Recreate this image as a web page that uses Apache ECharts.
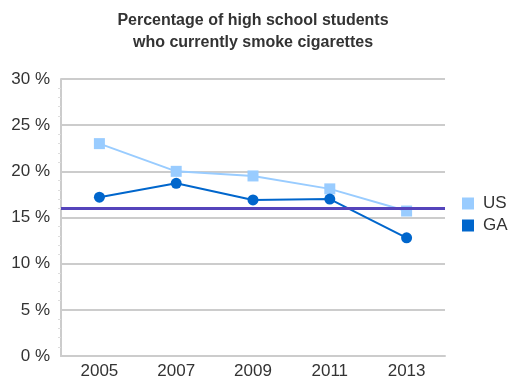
<!DOCTYPE html>
<html><head><meta charset="utf-8">
<script src="https://cdn.jsdelivr.net/npm/echarts@6/dist/echarts.min.js"></script>
<style>html,body{margin:0;padding:0;background:#fff}#c{width:511px;height:383px}</style>
</head><body><div id="c"></div>
<script>
const years = ['2005','2007','2009','2011','2013'];
const usValues = [23.0, 20.0, 19.5, 18.1, 15.7];
const gaValues = [17.2, 18.7, 16.9, 17.0, 12.8];
const targetValue = 16;
const chart = echarts.init(document.getElementById('c'));
const FONT = 'Liberation Sans, Arial';
chart.setOption({
  animation: false,
  title: {
    text: 'Percentage of high school students\nwho currently smoke cigarettes',
    left: 248, top: 5, textAlign: 'center',
    textStyle: {fontFamily: FONT, fontSize: 16, fontWeight: 'bold', color: '#333', lineHeight: 22}
  },
  legend: {
    orient: 'vertical', left: 457, top: 190, itemWidth: 12, itemHeight: 12, itemGap: 5,
    textStyle: {fontFamily: FONT, fontSize: 17, color: '#333', padding: [0,0,0,4]},
    data: [{name: 'US', icon: 'rect'}, {name: 'GA', icon: 'rect'}]
  },
  grid: {left: 61, right: 66, top: 79, bottom: 27, containLabel: false},
  xAxis: {
    type: 'category', data: years, boundaryGap: true,
    axisLine: {lineStyle: {color: '#ccc', width: 2}},
    axisTick: {show: false},
    axisLabel: {fontFamily: FONT, fontSize: 17, color: '#333', margin: 7}
  },
  yAxis: {
    type: 'value', min: 0, max: 30, interval: 5,
    axisLine: {show: true, lineStyle: {color: '#ccc', width: 2}},
    axisTick: {show: false},
    minorTick: {show: true, splitNumber: 5, length: 3, lineStyle: {color: '#ddd'}},
    splitLine: {lineStyle: {color: '#ccc', width: 2}},
    axisLabel: {fontFamily: FONT, fontSize: 17, color: '#333', margin: 11,
      formatter: v => v + ' %'}
  },
  series: [
    {name: 'US', type: 'line', data: usValues, symbol: 'rect', symbolSize: 11,
      itemStyle: {color: '#99ccff'}, lineStyle: {color: '#99ccff', width: 2},
      markLine: {silent: true, symbol: 'none', label: {show: false},
        lineStyle: {color: '#5544bb', width: 3, type: 'solid'},
        data: [{yAxis: targetValue}]}, z: 2},
    {name: 'GA', type: 'line', data: gaValues, symbol: 'circle', symbolSize: 11,
      itemStyle: {color: '#0066cc'}, lineStyle: {color: '#0066cc', width: 2}, z: 3}
  ]
});
</script></body></html>
